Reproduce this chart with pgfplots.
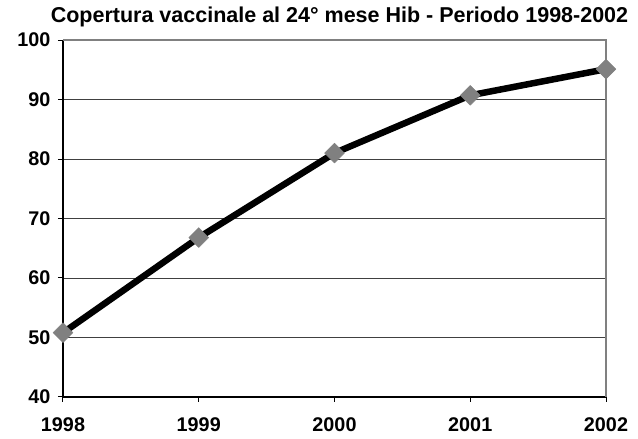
\documentclass[border=0pt]{standalone}
\usepackage{fontspec}
\setmainfont{Liberation Sans}
\usepackage{pgfplots}
\pgfplotsset{compat=1.18}
\begin{document}
\begin{tikzpicture}[x=1pt,y=1pt]
\useasboundingbox (-63,-42) rectangle (575,397);
\begin{axis}[
  at={(0,0)}, anchor=south west,
  scale only axis, width=543pt, height=357pt,
  xmin=0, xmax=4, ymin=40, ymax=100,
  xtick={0,1,2,3,4}, xticklabels={1998,1999,2000,2001,2002},
  ytick={40,50,60,70,80,90,100},
  axis lines*=left,
  axis line style={-, black, line width=1.2pt},
  ymajorgrids, grid style={draw=black!75, line width=0.9pt},
  tick align=outside, major tick length=5pt,
  tick style={black, line width=1pt},
  ticklabel style={font=\fontsize{19.8}{20}\selectfont\bfseries},
  /pgf/number format/assume math mode=true,
  yticklabel style={xshift=-4pt},
  xticklabel style={yshift=-12pt},
  title={Copertura vaccinale al 24° mese Hib - Periodo 1998-2002},
  title style={font=\fontsize{21.5}{24}\selectfont\bfseries, at={(0.5,1)}, anchor=base, yshift=12pt, xshift=5pt},
  clip=false,
]
\draw[gray, line width=2pt] (axis cs:0,100) -- (axis cs:4,100) -- (axis cs:4,40);
\addplot[black, line width=6.5pt, line join=round, line cap=round, mark=square*,
  mark options={rotate=45, fill=gray, draw=gray, line width=0.5pt, solid}, mark size=7pt]
  coordinates {(0,50.8)(1,66.8)(2,81.0)(3,90.7)(4,95.1)};
\end{axis}
\end{tikzpicture}
\end{document}
